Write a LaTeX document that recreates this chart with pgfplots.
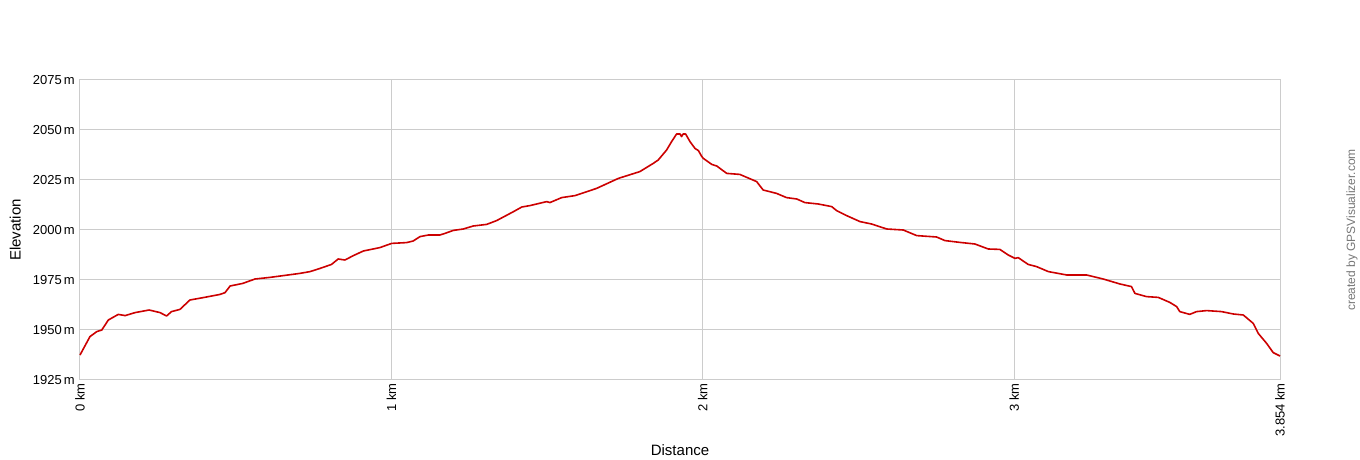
\documentclass[border=0pt]{standalone}
\usepackage{pgfplots}
\pgfplotsset{compat=1.18}
\usepackage{fontspec}
\setmainfont{Liberation Sans}
\definecolor{gridgray}{HTML}{CCCCCC}
\definecolor{trackred}{HTML}{CC0000}
\definecolor{credgray}{HTML}{777777}
\begin{document}
\begin{tikzpicture}[x=1pt,y=1pt]
\path[use as bounding box] (0,0) rectangle (1360,460);
\begin{axis}[
  at={(80pt,80pt)}, anchor=south west,
  scale only axis, width=1200pt, height=300pt,
  xmin=0, xmax=3.854, ymin=1925, ymax=2075,
  xtick={0,1,2,3,3.854},
  xticklabels={0 km,1 km,2 km,3 km,3.854 km},
  ytick={1925,1950,1975,2000,2025,2050,2075},
  yticklabel={\pgfmathprintnumber{\tick}\,m},
  /pgf/number format/1000 sep={},
  /pgf/number format/assume math mode=true,
  grid=major,
  major grid style={gridgray, line width=1pt},
  axis line style={gridgray, line width=1pt},
  tick style={draw=none},
  ticklabel style={font=\fontsize{13}{15}\selectfont, text=black},
  xticklabel style={rotate=90, anchor=east, inner sep=3pt},
  yticklabel style={anchor=east, inner sep=5pt},
  xlabel={Distance}, ylabel={Elevation},
  label style={font=\fontsize{15}{18}\selectfont},
  xlabel style={at={(axis description cs:0.5,-0.233)}, anchor=center},
  ylabel style={at={(axis description cs:-0.054,0.5)}, anchor=center, rotate=0},
  clip=false,
]
\addplot[trackred, line width=1.6pt, line join=round] coordinates {
(0,1937.5) (0.032,1946.7) (0.054,1949.2) (0.070,1950) (0.091,1955) (0.123,1957.8)
(0.145,1957.2) (0.177,1958.7) (0.222,1960) (0.257,1958.7) (0.278,1957) (0.294,1959.2)
(0.321,1960.3) (0.353,1965) (0.396,1966.2) (0.450,1967.8) (0.466,1968.7) (0.482,1972)
(0.523,1973.3) (0.562,1975.5) (0.610,1976.3) (0.706,1978.3) (0.739,1979.2) (0.771,1980.8)
(0.808,1982.8) (0.829,1985.5) (0.851,1985) (0.878,1987.2) (0.910,1989.5) (0.963,1991.2)
(1.001,1993.3) (1.049,1993.7) (1.070,1994.5) (1.092,1996.7) (1.119,1997.5) (1.156,1997.5)
(1.172,1998.3) (1.199,1999.8) (1.231,2000.5) (1.263,2002) (1.306,2002.8) (1.338,2004.7)
(1.390,2009) (1.419,2011.5) (1.445,2012.2) (1.499,2014.2) (1.509,2013.7) (1.547,2016.2)
(1.590,2017.2) (1.659,2020.8) (1.729,2025.8) (1.798,2029.2) (1.841,2033.3) (1.857,2035)
(1.884,2040) (1.900,2044.2) (1.916,2048) (1.927,2048) (1.932,2046.7) (1.937,2048)
(1.945,2048) (1.959,2044.2) (1.975,2040.8) (1.986,2039.7) (1.997,2036.7) (2.002,2035.8)
(2.029,2032.8) (2.045,2032) (2.077,2028.3) (2.119,2027.8) (2.173,2024.2) (2.194,2020)
(2.237,2018.3) (2.269,2016.2) (2.302,2015.5) (2.328,2013.7) (2.371,2013) (2.414,2011.7)
(2.430,2009.7) (2.462,2007.2) (2.505,2004.2) (2.542,2003) (2.591,2000.5) (2.644,2000)
(2.687,1997.2) (2.751,1996.5) (2.778,1994.7) (2.826,1993.8) (2.874,1993) (2.917,1990.5)
(2.954,1990.3) (2.981,1987.5) (3.003,1985.8) (3.013,1986.2) (3.045,1982.8) (3.072,1981.7)
(3.110,1979.2) (3.169,1977.5) (3.233,1977.5) (3.286,1975.5) (3.340,1973) (3.377,1971.7)
(3.388,1968.3) (3.425,1966.7) (3.463,1966.3) (3.500,1963.8) (3.522,1961.7) (3.532,1959.2)
(3.564,1957.8) (3.586,1959.2) (3.618,1959.7) (3.666,1959.2) (3.704,1958) (3.736,1957.5)
(3.768,1953.3) (3.784,1948.3) (3.811,1943.3) (3.832,1938.7) (3.854,1937)
};
\node[rotate=90, anchor=center, text=credgray, font=\fontsize{12}{14}\selectfont]
  at (axis description cs:1.06,0.5) {created by GPSVisualizer.com};
\end{axis}
\end{tikzpicture}
\end{document}
